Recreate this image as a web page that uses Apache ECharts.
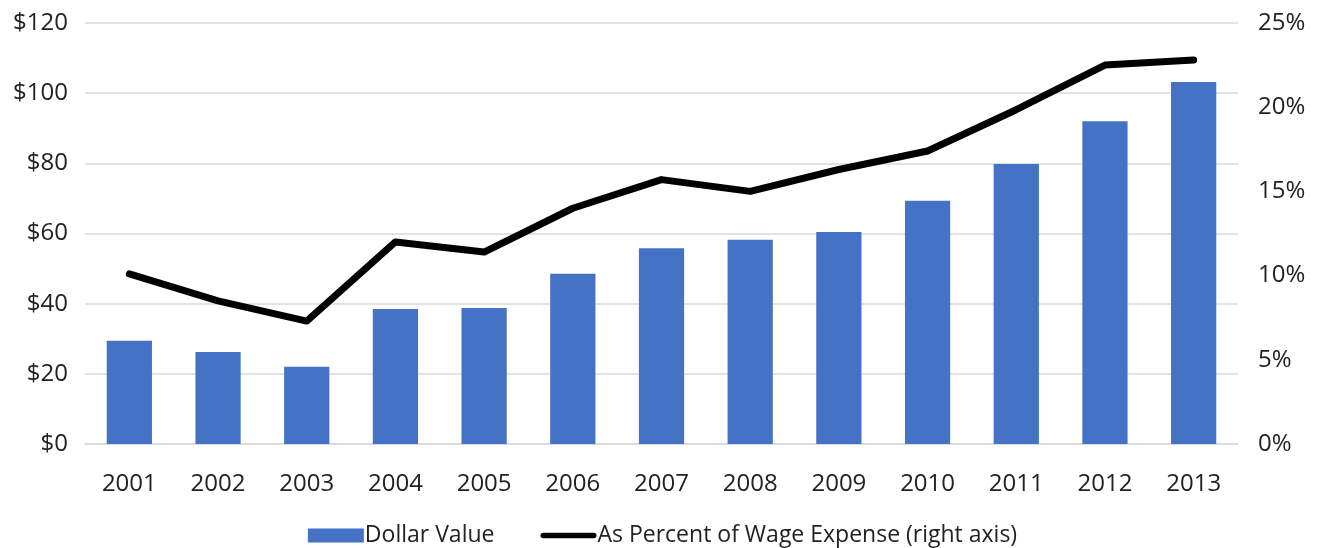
<!DOCTYPE html>
<html>
<head>
<meta charset="utf-8">
<script src="https://cdn.jsdelivr.net/npm/echarts@6/dist/echarts.min.js"></script>
<style>
html,body{margin:0;padding:0;background:#fff;}
#chart{width:1325px;height:548px;}
</style>
</head>
<body>
<div id="chart"></div>
<script>
const years = ['2001','2002','2003','2004','2005','2006','2007','2008','2009','2010','2011','2012','2013'];
const dollarValue = [29.4, 26.2, 22.0, 38.5, 38.8, 48.5, 55.8, 58.2, 60.4, 69.3, 79.8, 92.0, 103.2];
const pctWage = [10.1, 8.5, 7.3, 12.0, 11.4, 14.0, 15.7, 15.0, 16.3, 17.4, 19.85, 22.5, 22.8];
const barName = 'Dollar Value';
const lineName = 'As Percent of Wage Expense (right axis)';

const font = '"Open Sans", "Noto Sans", sans-serif';
const chart = echarts.init(document.getElementById('chart'), null, {renderer: 'canvas'});
chart.setOption({
  animation: false,
  textStyle: {fontFamily: font},
  grid: {left: 85, right: 87, top: 23, bottom: 104, containLabel: false},
  legend: {
    top: 519,
    left: 'center',
    itemWidth: 56,
    itemHeight: 14,
    itemGap: 46,
    symbolKeepAspect: true,
    textStyle: {fontFamily: font, fontSize: 23, color: '#222', padding: [0,0,0,-4]},
    data: [
      {name: barName, icon: 'rect'},
      {name: lineName, icon: 'path://M3,0 L57,0 A3,3 0 0 1 57,6 L3,6 A3,3 0 0 1 3,0 Z', itemStyle: {color: '#000'}}
    ]
  },
  xAxis: {
    type: 'category',
    data: years,
    axisTick: {show: false},
    axisLine: {lineStyle: {color: '#d9d9d9', width: 1.5}},
    axisLabel: {fontSize: 24, color: '#222', margin: 28, fontFamily: font}
  },
  yAxis: [{
    type: 'value', min: 0, max: 120, interval: 20,
    axisLabel: {fontSize: 24, color: '#222', margin: 17, fontFamily: font, formatter: v => '$' + v},
    splitLine: {lineStyle: {color: '#d9d9d9', width: 1.5}},
    axisLine: {show: false}, axisTick: {show: false}
  }, {
    type: 'value', min: 0, max: 25, interval: 5,
    axisLabel: {fontSize: 24, color: '#222', margin: 20, fontFamily: font, formatter: v => v + '%'},
    splitLine: {show: false},
    axisLine: {show: false}, axisTick: {show: false}
  }],
  series: [{
    name: barName,
    type: 'bar',
    data: dollarValue,
    barWidth: '51%',
    itemStyle: {color: '#4472C4'}
  }, {
    name: lineName,
    type: 'line',
    yAxisIndex: 1,
    data: pctWage,
    symbol: 'none',
    lineStyle: {color: '#000', width: 7, cap: 'round', join: 'round'},
    itemStyle: {color: '#000'}
  }]
});
</script>
</body>
</html>
